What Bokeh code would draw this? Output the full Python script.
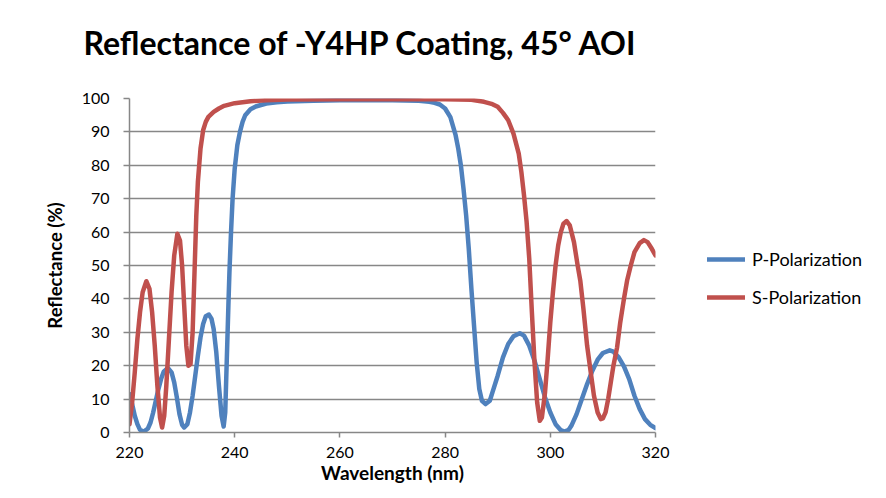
from bokeh.plotting import figure
from bokeh.models import (Range1d, FixedTicker, Legend, LegendItem, Title,
                          ColumnDataSource)
from bokeh.embed import file_html
from bokeh.resources import INLINE

# ---------------- data ----------------
title_text = "Reflectance of -Y4HP Coating, 45\u00b0 AOI"
x_title = "Wavelength (nm)"
y_title = "Reflectance (%)"
series_names = ["P-Polarization", "S-Polarization"]
x_ticks = [220, 240, 260, 280, 300, 320]
y_ticks = [0, 10, 20, 30, 40, 50, 60, 70, 80, 90, 100]

p_wl = [220, 220.5, 221, 221.5, 222, 222.7, 223.5, 224, 224.5, 225, 225.5, 226,
        226.5, 227.3, 228, 228.5, 229, 229.5, 230, 230.4, 231, 231.5, 232,
        232.5, 233, 233.5, 234, 234.5, 235.1, 235.6, 236, 236.5, 237, 237.5,
        237.9, 238.2, 238.5, 238.8, 239, 239.3, 239.6, 240, 240.5, 241, 241.5,
        242, 243, 244, 246, 248, 250, 255, 260, 270, 275, 277, 278, 279, 280,
        281, 282, 282.5, 283, 283.5, 284, 284.5, 285, 285.5, 286, 286.5, 287,
        287.7, 288.5, 289, 290, 291, 292, 293, 294.2, 295, 296, 297, 298, 299,
        300, 301, 302, 302.7, 303.5, 304, 305, 306, 307, 308, 309, 310, 311.3,
        312, 313, 314, 315, 316, 317, 318, 319, 320]
p_refl = [11.5, 8.5, 5, 2.5, 0.8, 0.2, 1.2, 3, 6, 9.5, 13, 16,
          18.2, 19.3, 18, 15, 10.5, 5.5, 2.3, 1.5, 2.5, 6, 11,
          17, 23, 28.5, 32.5, 34.8, 35.3, 34, 31, 24, 14, 5,
          1.8, 6, 22, 38, 48, 60, 70, 79, 86, 90, 93,
          95, 96.8, 97.6, 98.5, 98.9, 99.1, 99.3, 99.5, 99.5, 99.3, 99, 98.7, 98.2, 97,
          94.4, 89, 85, 80, 73, 65, 55, 43, 32, 21, 13, 9.5,
          8.5, 9.5, 12, 17, 22.5, 26.5, 28.8, 29.7, 29, 26, 21.5, 16, 10.5,
          6, 2.5, 0.7, 0.3, 0.8, 2, 5.5, 10, 14.5, 18.5, 21.8, 23.8, 24.6,
          24.2, 22.5, 19.8, 16, 11, 7, 4, 2.3, 1.3]

s_wl = [220, 220.5, 221, 221.5, 222, 222.5, 223.2, 223.8, 224.3, 224.8, 225.3,
        225.8, 226.2, 226.6, 227, 227.5, 228, 228.5, 229.1, 229.6, 230, 230.4,
        230.8, 231.2, 231.6, 232, 232.4, 232.7, 233, 233.5, 234, 234.5, 235,
        236, 237, 238, 240, 243, 246, 250, 260, 280, 285, 287.4, 289, 290, 291,
        292, 293, 293.5, 294, 294.5, 295, 295.5, 296, 296.5, 297, 297.5, 298,
        298.4, 299, 299.5, 300, 300.5, 301, 301.5, 302, 302.5, 303.1, 303.7,
        304.5, 305.2, 305.7, 306.3, 307, 307.6, 308.3, 309, 309.6, 310, 310.5,
        311, 311.5, 312, 312.7, 313.3, 314, 314.6, 315.3, 316, 317, 317.8,
        318.5, 319.3, 320]
s_refl = [2.5, 9, 18, 28, 36, 42, 45.3, 43, 36, 26, 14,
          4.5, 1.5, 5, 14, 28, 42, 53, 59.5, 57.5, 50, 38,
          26, 20, 20.5, 30, 50, 65, 75, 85, 90.5, 93, 94.5,
          96, 97, 97.8, 98.6, 99.2, 99.5, 99.7, 99.8, 99.8, 99.6, 99, 98.3, 97.5, 95.7,
          93.5, 89.5, 86.5, 83.5, 78, 71, 63, 52, 36, 21, 9, 3.5,
          4.5, 12, 22, 33, 42, 50, 56, 60, 62.5, 63.3, 62,
          57, 50, 45.5, 37, 26, 19, 11, 6, 4, 4.2, 6,
          10, 15, 20, 25.5, 33, 40, 45.5, 50, 54, 56.7, 57.6,
          57, 55, 53]

# ---------------- styles ----------------
BLUE = "#4F81BD"
RED = "#C0504D"
GRID = "#878787"
FONT = "Lato"

p = figure(width=870, height=482, output_backend="svg", toolbar_location=None,
           x_range=Range1d(220, 320), y_range=Range1d(0, 100),
           frame_width=526, frame_height=334,
           min_border_left=129, min_border_right=215,
           min_border_top=98, min_border_bottom=50)
p.outline_line_color = None
p.background_fill_color = "white"
p.border_fill_color = "white"

src_p = ColumnDataSource(dict(x=p_wl, y=p_refl))
src_s = ColumnDataSource(dict(x=s_wl, y=s_refl))
rp = p.line("x", "y", source=src_p, line_color=BLUE, line_width=4.5,
            line_join="round", line_cap="round")
rs = p.line("x", "y", source=src_s, line_color=RED, line_width=4.5,
            line_join="round", line_cap="round")

# grid
p.xgrid.visible = False
p.ygrid.ticker = FixedTicker(ticks=y_ticks)
p.ygrid.grid_line_color = GRID
p.ygrid.grid_line_width = 1.5
p.ygrid.level = "underlay"

# axes
for ax in (p.xaxis[0], p.yaxis[0]):
    ax.axis_line_color = GRID
    ax.axis_line_width = 1.5
    ax.major_tick_line_color = GRID
    ax.major_tick_line_width = 1.5
    ax.major_tick_in = 0
    ax.minor_tick_line_color = None
    ax.major_label_text_font = FONT
    ax.major_label_text_font_size = "16px"
    ax.major_label_text_color = "black"
    ax.axis_label_text_font = FONT
    ax.axis_label_text_font_style = "bold"
    ax.axis_label_text_color = "black"

p.xaxis[0].ticker = FixedTicker(ticks=x_ticks)
p.xaxis[0].major_tick_out = 5
p.xaxis[0].major_label_standoff = 9
p.xaxis[0].axis_label = x_title
p.xaxis[0].axis_label_standoff = 0
p.xaxis[0].axis_label_text_font_size = "19px"

p.yaxis[0].ticker = FixedTicker(ticks=y_ticks)
p.yaxis[0].major_tick_out = 6
p.yaxis[0].major_label_standoff = 14
p.yaxis[0].axis_label = y_title
p.yaxis[0].axis_label_standoff = 13
p.yaxis[0].axis_label_text_font_size = "18.5px"

# spacer between the title and the plot area
p.add_layout(Title(text=" ", text_font_size="2px", standoff=31), "above")

# title
p.title.text = title_text
p.title.align = "left"
p.title.offset = -46
p.title.text_font = FONT
p.title.text_font_style = "bold"
p.title.text_font_size = "32px"
p.title.text_color = "black"
p.title.vertical_align = "top"
p.title.standoff = 0

# legend
legend = Legend(items=[LegendItem(label=series_names[0], renderers=[rp]),
                       LegendItem(label=series_names[1], renderers=[rs])],
                location=(52, 124), orientation="vertical",
                glyph_width=38, glyph_height=20, label_height=20,
                label_standoff=7, spacing=16, padding=0, margin=0,
                border_line_color=None, background_fill_alpha=0,
                label_text_font=FONT, label_text_font_size="18px",
                label_text_color="black")
p.add_layout(legend, "right")

open("out.html", "w").write(file_html(p, INLINE))
